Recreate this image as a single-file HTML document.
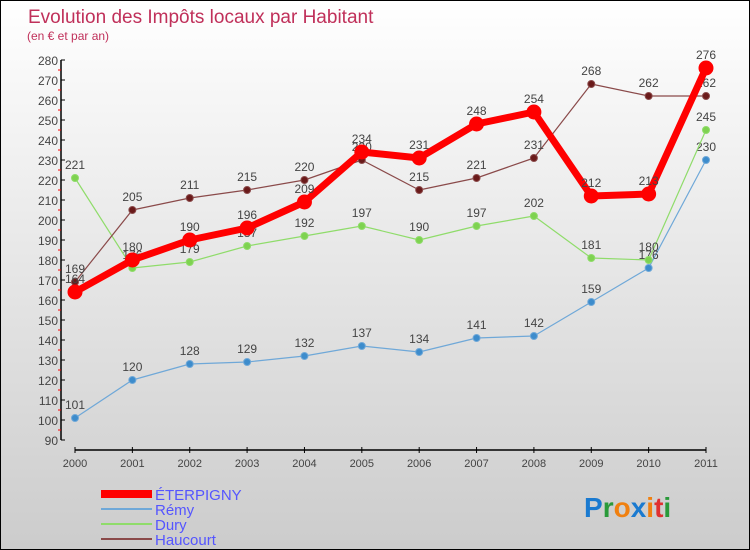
<!DOCTYPE html>
<html><head><meta charset="utf-8"><style>
body{margin:0;}
#c{width:748px;height:548px;border:1px solid #000;background:linear-gradient(#fff,#ccc);position:relative;font-family:"Liberation Sans",sans-serif;overflow:hidden}
</style></head><body>
<div id="c">
<svg id="s" width="748" height="548"></svg>
</div>
<script>
const years=[2000,2001,2002,2003,2004,2005,2006,2007,2008,2009,2010,2011];
const eterpigny=[164,180,190,196,209,234,231,248,254,212,213,276];
const remy=[101,120,128,129,132,137,134,141,142,159,176,230];
const dury=[221,176,179,187,192,197,190,197,202,181,180,245];
const haucourt=[169,205,211,215,220,230,215,221,231,268,262,262];
const yTicks=[90,100,110,120,130,140,150,160,170,180,190,200,210,220,230,240,250,260,270,280];
const NS="http://www.w3.org/2000/svg";
const s=document.getElementById('s');
const X=i=>74+i*(705-74)/11;
const Y=v=>439-(v-90)*2;
function el(t,a,p){const e=document.createElementNS(NS,t);for(const k in a)e.setAttribute(k,a[k]);(p||s).appendChild(e);return e;}
let t=el('text',{x:27,y:22,fill:'#c0305a','font-size':19});t.textContent='Evolution des Impôts locaux par Habitant';

t=el('text',{x:26,y:39,fill:'#c0305a','font-size':12});t.textContent='(en € et par an)';

// y axis
let ya=el('line',{x1:60,y1:Y(280),x2:60,y2:Y(90),stroke:'#000','stroke-width':1.5});

yTicks.forEach(v=>{el('line',{x1:60,x2:64,y1:Y(v),y2:Y(v),stroke:'#000'});
 if(v<280)el('line',{x1:57,x2:60,y1:Y(v+5),y2:Y(v+5),stroke:'red'});
 const l=el('text',{x:57,y:Y(v)+5,'text-anchor':'end','font-size':12,fill:'#444'});l.textContent=v;
 });
let xa=el('line',{x1:X(0),x2:X(11),y1:449,y2:449,stroke:'#000','stroke-width':1.5});

years.forEach((yr,i)=>{el('line',{x1:X(i),x2:X(i),y1:446,y2:452,stroke:'#000'});
 const l=el('text',{x:X(i),y:466,'text-anchor':'middle','font-size':11,fill:'#444'});l.textContent=yr;
 });
function series(d,col,w,r,name,dot){
 const g=el('g',{});
 el('polyline',{points:d.map((v,i)=>X(i)+','+Y(v)).join(' '),fill:'none',stroke:col,'stroke-width':w,'stroke-linejoin':'round'},g);
 d.forEach((v,i)=>{const c=el('circle',{cx:X(i),cy:Y(v),r:r,fill:dot,stroke:col},g);
  
  const l=el('text',{x:X(i),y:Y(v)-9,'text-anchor':'middle','font-size':12,fill:'#444'},g);l.textContent=v;
  });
}
series(remy,'#6fa8d8',1.2,3.5,'remy','#3d8ccc');
series(dury,'#8fdc6a',1.2,3.5,'dury','#7ed250');
series(haucourt,'#8a4a4a',1.2,3.5,'haucourt','#6a1a1a');
series(eterpigny,'#f00',7,7,'eterpigny','#f00');
// legend
const leg=[['ÉTERPIGNY','#f00',8],['Rémy','#6fa8d8',2],['Dury','#8fdc6a',2],['Haucourt','#8a4a4a',2]];
leg.forEach((e,i)=>{const g=el('g',{});
 const y=493+i*15;el('line',{x1:100,x2:151,y1:y,y2:y,stroke:e[1],'stroke-width':e[2]},g);
 const l=el('text',{x:154,y:y+6,'font-size':15,fill:'#55f'},g);l.textContent=e[0];});
const lg=el('text',{x:583,y:516,'font-size':28,'font-weight':'bold'});

[['P','#1a7ad0'],['r','#2a9a3a'],['o','#f08010'],['x','#1a7ad0'],['i','#f08010'],['t','#e03030'],['i','#2a9a3a']].forEach(p=>{const ts=el('tspan',{fill:p[1]},lg);ts.textContent=p[0];});
</script>
</body></html>
